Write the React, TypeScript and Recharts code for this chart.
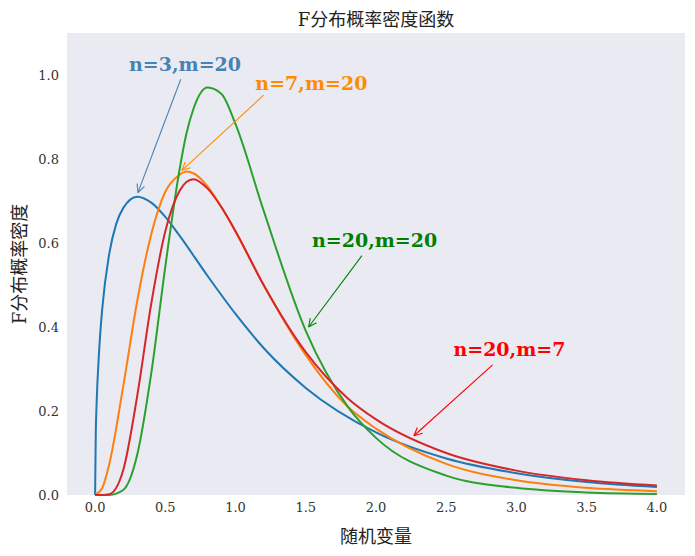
import React from 'react';
import { LineChart, Line, XAxis, YAxis, CartesianGrid, ReferenceLine, ReferenceDot } from 'recharts';

const xs3 = [0, 0.005, 0.01, 0.03, 0.05, 0.1, 0.15, 0.2, 0.3, 0.4, 0.5, 0.6, 0.8, 1.0, 1.2, 1.5, 2.0, 2.5, 3.0, 3.5, 4.0];
const f3_20 = [0, 0.15, 0.21, 0.35, 0.44, 0.573, 0.645, 0.683, 0.71, 0.696, 0.662, 0.618, 0.522, 0.431, 0.35, 0.255, 0.149, 0.087, 0.052, 0.031, 0.019];
const xs = [0, 0.05, 0.1, 0.2, 0.3, 0.4, 0.5, 0.6, 0.65, 0.7, 0.8, 0.9, 1.0, 1.2, 1.5, 1.8, 2.0, 2.5, 3.0, 3.5, 4.0];
const f7_20 = [0, 0.016, 0.072, 0.258, 0.462, 0.621, 0.722, 0.762, 0.77, 0.766, 0.735, 0.685, 0.627, 0.5, 0.333, 0.21, 0.158, 0.074, 0.035, 0.017, 0.009];
const f20_20 = [0, 0, 0.0001, 0.012, 0.096, 0.29, 0.544, 0.772, 0.86, 0.919, 0.97, 0.955, 0.883, 0.677, 0.391, 0.21, 0.136, 0.046, 0.017, 0.006, 0.0025];
const f20_7 = [0, 0.0001, 0.0017, 0.059, 0.236, 0.456, 0.628, 0.723, 0.745, 0.752, 0.73, 0.685, 0.628, 0.5, 0.34, 0.23, 0.18, 0.1, 0.058, 0.035, 0.0225];
const xTicks = [0, 0.5, 1, 1.5, 2, 2.5, 3, 3.5, 4];
const yTicks = [0, 0.2, 0.4, 0.6, 0.8, 1.0];

const mk = (x: number[], y: number[]) => x.map((v, i) => ({ x: v, y: y[i] }));

const notes = [
  { text: 'n=3,m=20', color: '#4682b4', tx: 0.64, ty: 1.026, from: [0.61, 0.99], to: [0.305, 0.72] },
  { text: 'n=7,m=20', color: '#ff8c00', tx: 1.54, ty: 0.98, from: [1.2, 0.952], to: [0.618, 0.773] },
  { text: 'n=20,m=20', color: '#008000', tx: 1.99, ty: 0.606, from: [1.9, 0.57], to: [1.52, 0.40] },
  { text: 'n=20,m=7', color: '#ff0000', tx: 2.95, ty: 0.348, from: [2.83, 0.31], to: [2.27, 0.141] },
];

const serif = '"DejaVu Serif", "Liberation Serif", "Noto Sans CJK SC", serif';

const arrowShape = (color: string) => (p: any) => {
  const { x1, y1, x2, y2 } = p;
  const a = Math.atan2(y2 - y1, x2 - x1);
  const L = 9, w = 0.45;
  return (
    <g>
      <line x1={x1} y1={y1} x2={x2} y2={y2} stroke={color} strokeWidth={1.1} />
      <line x1={x2} y1={y2} x2={x2 - L * Math.cos(a - w)} y2={y2 - L * Math.sin(a - w)} stroke={color} strokeWidth={1.1} />
      <line x1={x2} y1={y2} x2={x2 - L * Math.cos(a + w)} y2={y2 - L * Math.sin(a + w)} stroke={color} strokeWidth={1.1} />
    </g>
  );
};

export default function App() {
  const tick = { fill: '#333', fontSize: 13, fontFamily: serif };
  return (
    <div style={{ position: 'absolute', left: 0, top: 0, width: 695, height: 556, background: '#fff', fontFamily: serif }}>
      <div style={{ position: 'absolute', top: 5, left: 67, width: 618, textAlign: 'center', fontSize: 18, color: '#222' }}>F分布概率密度函数</div>
      <div style={{ position: 'absolute', bottom: 8, left: 67, width: 618, textAlign: 'center', fontSize: 18, color: '#222' }}>随机变量</div>
      <div style={{ position: 'absolute', left: 18, top: 264, transform: 'translate(-50%,-50%) rotate(-90deg)', whiteSpace: 'nowrap', fontSize: 18, color: '#222' }}>F分布概率密度</div>
      <LineChart width={695} height={556} margin={{ top: 33, right: 10, bottom: 0, left: 22 }}>
        <rect x={67} y={33} width={618} height={462} fill="#eaeaf2" />
        <CartesianGrid stroke="#fff" strokeWidth={1} />
        <XAxis type="number" dataKey="x" domain={[-0.2, 4.2]} ticks={xTicks} tickFormatter={(v) => v.toFixed(1)} axisLine={false} tickLine={false} tick={tick} height={61} allowDuplicatedCategory={false} />
        <YAxis type="number" domain={[0, 1.1]} ticks={yTicks} tickFormatter={(v) => v.toFixed(1)} axisLine={false} tickLine={false} tick={tick} width={45} />
        <Line data={mk(xs3, f3_20)} dataKey="y" stroke="#1f77b4" strokeWidth={2} dot={false} type="monotone" isAnimationActive={false} />
        <Line data={mk(xs, f7_20)} dataKey="y" stroke="#ff7f0e" strokeWidth={2} dot={false} type="monotone" isAnimationActive={false} />
        <Line data={mk(xs, f20_20)} dataKey="y" stroke="#2ca02c" strokeWidth={2} dot={false} type="monotone" isAnimationActive={false} />
        <Line data={mk(xs, f20_7)} dataKey="y" stroke="#d62728" strokeWidth={2} dot={false} type="monotone" isAnimationActive={false} />
        {notes.map((n) => (
          <ReferenceLine key={n.text + 'l'} segment={[{ x: n.from[0], y: n.from[1] }, { x: n.to[0], y: n.to[1] }]} shape={arrowShape(n.color)} />
        ))}
        {notes.map((n) => (
          <ReferenceDot key={n.text} x={n.tx} y={n.ty} r={0} stroke="none" fill="none"
            label={{ value: n.text, position: 'center', fill: n.color, fontSize: 19, fontWeight: 'bold', fontFamily: serif }} />
        ))}
      </LineChart>
    </div>
  );
}
